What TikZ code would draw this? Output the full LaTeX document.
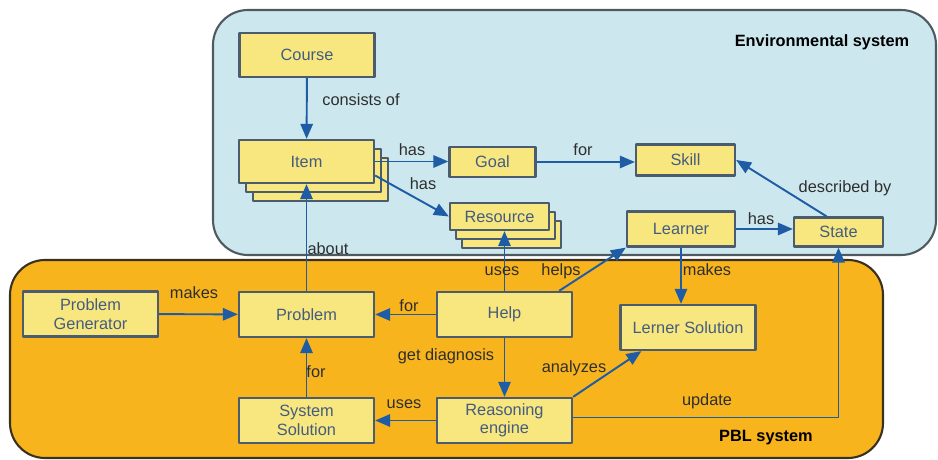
\documentclass[tikz,border=0pt]{standalone}
\usepackage{fontspec}
\setmainfont{Liberation Sans}
\usetikzlibrary{arrows.meta,calc}
\definecolor{envfill}{HTML}{CCE8EE}
\definecolor{envline}{HTML}{4F5A60}
\definecolor{pblfill}{HTML}{F8B41C}
\definecolor{pblline}{HTML}{3A3020}
\definecolor{boxfill}{HTML}{F7E77E}
\definecolor{boxline}{HTML}{4A5C6E}
\definecolor{boxtext}{HTML}{455C80}
\definecolor{arrowblue}{HTML}{1F5CA6}
\definecolor{lbltext}{HTML}{2E2E2E}
\tikzset{
  box/.style={draw=boxline,fill=boxfill,line width=1.3pt,text=boxtext,
    inner sep=1pt,align=center,font=\fontsize{9.3}{10.5}\selectfont},
  lbl/.style={text=lbltext,inner sep=0pt,font=\fontsize{9.3}{10.5}\selectfont},
  link/.style={draw=arrowblue,line width=1.1pt,->},
}
\begin{document}
\begin{tikzpicture}[x=0.2mm,y=-0.2mm,>={Triangle[length=8.5pt,width=7pt]},line join=round]
	\useasboundingbox (0,0) rectangle (938,460);
	%	the two systems
	\draw[envline,fill=envfill,line width=1.2pt,rounded corners=7mm] (213,10) rectangle (936,255);
	\draw[pblline,fill=pblfill,line width=1.2pt,rounded corners=7mm] (10,260) rectangle (883,458);
	\node[lbl,font=\fontsize{9.3}{10.5}\selectfont\bfseries,text=black] (envname) at (822,42) {Environmental system};
	\node[lbl,font=\fontsize{9.3}{10.5}\selectfont\bfseries,text=black] (pblname) at (766,438) {PBL system};
	
	%	environmental system
	\node[box,minimum width=27mm,minimum height=8.8mm] (course) at (307,55) {Course};
	\node[box,minimum width=27mm,minimum height=8.6mm] (item3) at (320.5,179.5) {};
	\node[box,minimum width=27mm,minimum height=8.6mm] (item2) at (313.5,170.5) {};
	\node[box,minimum width=27mm,minimum height=8.6mm] (item) at (306.5,161.5) {Item};
	\node[box,minimum width=17.2mm,minimum height=6mm] (goal) at (492.5,162) {Goal};
	\node[box,minimum width=19.8mm,minimum height=6.2mm] (skill) at (685.5,160) {Skill};
	\node[box,minimum width=19.8mm,minimum height=5.4mm] (res3) at (511.5,234.5) {};
	\node[box,minimum width=19.8mm,minimum height=5.4mm] (res2) at (505.5,225.5) {};
	\node[box,minimum width=19.8mm,minimum height=5.4mm] (res) at (499.5,216.5) {Resource};
	\node[box,minimum width=21.6mm,minimum height=7mm] (learner) at (681,229) {Learner};
	\node[box,minimum width=17.8mm,minimum height=5.8mm] (state) at (838.5,232) {State};
	
	%	PBL system
	\node[box,minimum width=27mm,minimum height=9mm] (gen) at (90.5,314) {Problem\\Generator};
	\node[box,minimum width=27mm,minimum height=9mm] (problem) at (306.5,314.5) {Problem};
	\node[box,minimum width=27mm,minimum height=9mm] (help) at (504.5,314.5) {Help};
	\node[box,minimum width=27mm,minimum height=9mm] (lsol) at (688,327.5) {Lerner Solution};
	\node[box,minimum width=27mm,minimum height=9mm] (ssol) at (306.5,420.5) {System\\Solution};
	\node[box,minimum width=27mm,minimum height=9mm] (engine) at (504.5,420.5) {Reasoning\\engine};
	
	%	connectors
	\draw[link] (course) -- (item);
	\draw[link] (item.east) -- (item.east -| goal.west);
	\draw[link] ([shift={(0,14)}]item.east) -- (res.west);
	\draw[link] (goal.east) -- (goal.east -| skill.west);
	\draw[link] ([shift={(-12,0)}]state.north) -- (skill.east);
	\draw[link] (learner.east) -- (learner.east -| state.west);
	\draw[link] (learner.south) -- (learner.south |- lsol.north);
	\draw[link] (help.north) -- (help.north |- res.south);
	\draw[link] ([shift={(-14,0)}]help.north east) -- (learner.south west);
	\draw[link] (help) -- (problem);
	\draw[link] (gen) -- (problem);
	\draw[link] (problem) -- (item);
	\draw[link] (help) -- (engine);
	\draw[link] (engine.north east) -- ([shift={(22,0)}]lsol.south west);
	\draw[link] ([shift={(0,-3)}]engine.east) -| (state.south);
	\draw[link] (engine) -- (ssol);
	\draw[link] (ssol) -- (problem);
	
	%	labels
	\node[lbl] (l-consists) at (361,100) {consists of};
	\node[lbl] (l-has1) at (412,150) {has};
	\node[lbl] (l-has2) at (423,184) {has};
	\node[lbl] (l-for1) at (583,150) {for};
	\node[lbl] (l-described) at (845,188) {described by};
	\node[lbl] (l-has3) at (761,219) {has};
	\node[lbl] (l-makes1) at (707,270) {makes};
	\node[lbl] (l-uses1) at (502,271) {uses};
	\node[lbl] (l-helps) at (561,271) {helps};
	\node[lbl] (l-about) at (328,249) {about};
	\node[lbl] (l-makes2) at (194,293) {makes};
	\node[lbl] (l-for2) at (409,306) {for};
	\node[lbl] (l-diag) at (446,356) {get diagnosis};
	\node[lbl] (l-for3) at (316,372) {for};
	\node[lbl] (l-uses2) at (404,404) {uses};
	\node[lbl] (l-analyzes) at (574,368) {analyzes};
	\node[lbl] (l-update) at (707,401) {update};
\end{tikzpicture}
\end{document}
